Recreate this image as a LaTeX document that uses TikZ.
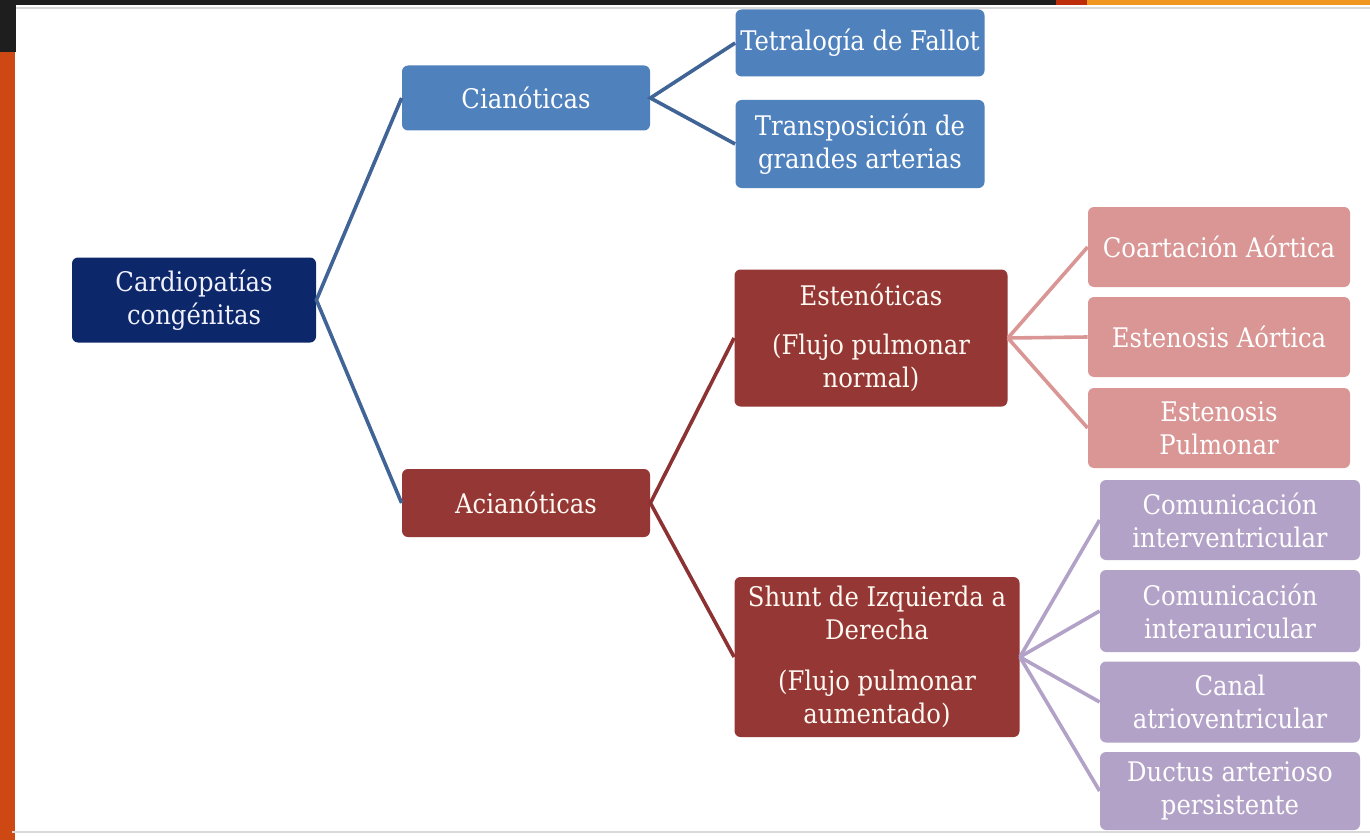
\documentclass[tikz,border=0pt]{standalone}
\usepackage{fontspec}
\usepackage{xcolor}
\setmainfont{DejaVu Serif Condensed}

\definecolor{navyfill}{RGB}{12,40,106}
\definecolor{bluefill}{RGB}{79,129,189}
\definecolor{redfill}{RGB}{149,55,53}
\definecolor{pinkfill}{RGB}{217,150,148}
\definecolor{lilacfill}{RGB}{179,162,199}
\definecolor{blueline}{RGB}{64,100,150}
\definecolor{redline}{RGB}{140,50,50}
\definecolor{slidedark}{RGB}{30,30,30}
\definecolor{slideorange}{RGB}{205,72,18}
\definecolor{slidered}{RGB}{190,45,10}
\definecolor{slideamber}{RGB}{240,150,30}

\tikzset{
  box/.style={rounded corners=3pt, text=white, align=center, inner sep=0pt,
    font=\fontsize{13.5}{16.5}\selectfont},
  navybox/.style={box, fill=navyfill, text=blue!5},
  bluebox/.style={box, fill=bluefill},
  redbox/.style={box, fill=redfill, text=orange!5},
  pinkbox/.style={box, fill=pinkfill},
  lilacbox/.style={box, fill=lilacfill},
  link/.style={line width=1.8pt},
  bluelink/.style={link, draw=blueline},
  redlink/.style={link, draw=redline},
  pinklink/.style={link, draw=pinkfill},
  lilaclink/.style={link, draw=lilacfill}
}

\begin{document}
\begin{tikzpicture}[x=0.5pt,y=-0.5pt]
  % slide frame
  \fill[white] (0,0) rectangle (1370,840);
  \useasboundingbox (0,0) rectangle (1370,840);
  \fill[slidedark] (0,0) rectangle (1370,5);
  \fill[slidedark] (0,0) rectangle (16,52);
  \fill[slideorange] (0,52) rectangle (15,840);
  \fill[slidered] (1056,0) rectangle (1087,5);
  \fill[slideamber] (1087,0) rectangle (1370,5);
  \draw[black!15, line width=1pt] (16,8) -- (1370,8);
  \draw[black!15, line width=1pt] (12,832) -- (1370,832);

  % root
  \node[navybox, minimum width=122pt, minimum height=42.5pt] (cardio) at (194,300)
    {Cardiopatías\\congénitas};

  % first level
  \node[bluebox, minimum width=124pt, minimum height=32.5pt] (cian) at (526,98) {Cianóticas};
  \node[redbox, minimum width=124pt, minimum height=34pt] (acian) at (526,503) {Acianóticas};

  % cyanotic branch
  \node[bluebox, minimum width=124.5pt, minimum height=33.5pt] (tetra) at (860,43)
    {Tetralogía de Fallot};
  \node[bluebox, minimum width=124.5pt, minimum height=44pt] (transp) at (860,144)
    {Transposición de\\grandes arterias};

  % acyanotic branch
  \node[redbox, minimum width=136.5pt, minimum height=68.5pt] (esten) at (871,338)
    {Estenóticas\\[8pt](Flujo pulmonar\\normal)};
  \node[redbox, minimum width=142.5pt, minimum height=80pt] (shunt) at (877,657)
    {Shunt de Izquierda a\\Derecha\\[9pt](Flujo pulmonar\\aumentado)};

  % stenotic lesions
  \node[pinkbox, minimum width=131pt, minimum height=40pt] (coart) at (1219,247)
    {Coartación Aórtica};
  \node[pinkbox, minimum width=131pt, minimum height=40pt] (estao) at (1219,337)
    {Estenosis Aórtica};
  \node[pinkbox, minimum width=131pt, minimum height=40pt] (estpul) at (1219,428)
    {Estenosis\\Pulmonar};

  % shunt lesions
  \node[lilacbox, minimum width=130pt, minimum height=40pt] (civ) at (1230,520)
    {Comunicación\\interventricular};
  \node[lilacbox, minimum width=130pt, minimum height=41pt] (cia) at (1230,611)
    {Comunicación\\interauricular};
  \node[lilacbox, minimum width=130pt, minimum height=40.5pt] (canal) at (1230,702)
    {Canal\\atrioventricular};
  \node[lilacbox, minimum width=130pt, minimum height=39pt] (ductus) at (1230,791)
    {Ductus arterioso\\persistente};

  % connectors
  \draw[bluelink] (cian.west) -- (cardio.east) -- (acian.west);
  \draw[bluelink] (tetra.west) -- (cian.east) -- (transp.west);
  \draw[redlink] (esten.west) -- (acian.east) -- (shunt.west);
  \foreach \leaf in {coart,estao,estpul}
    \draw[pinklink] (esten.east) -- (\leaf.west);
  \foreach \leaf in {civ,cia,canal,ductus}
    \draw[lilaclink] (shunt.east) -- (\leaf.west);
\end{tikzpicture}
\end{document}
